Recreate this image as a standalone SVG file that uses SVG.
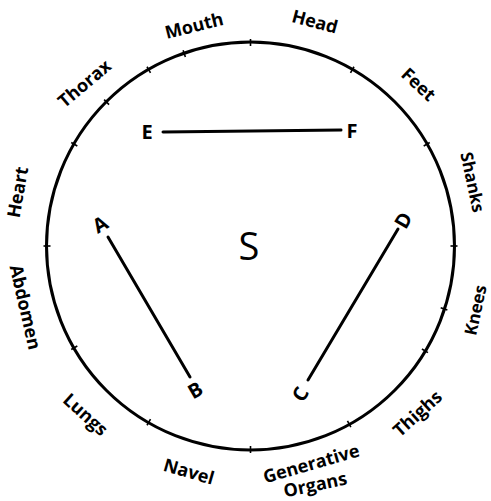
<svg xmlns="http://www.w3.org/2000/svg" width="491" height="501" viewBox="0 0 491 501">
<style>
.lbl{font-family:"Open Sans","DejaVu Sans",sans-serif;font-weight:700;font-size:18px;fill:#000;text-anchor:middle;dominant-baseline:central}
.sm{font-size:17px}
.pt{font-family:"Open Sans","DejaVu Sans",sans-serif;font-weight:700;font-size:20px;fill:#000;text-anchor:middle;dominant-baseline:central}
.ln{stroke:#000;stroke-width:3;stroke-linecap:round;fill:none}
.tk{stroke:#000;stroke-width:1.6}
</style>
<rect width="491" height="501" fill="#fff"/>
<g id="circle">
<circle cx="250.5" cy="246" r="204" fill="none" stroke="#000" stroke-width="3"/>
<g transform="translate(250.5 246)">
<line class="tk" x1="0" y1="-200" x2="0" y2="-207" transform="rotate(0)"/>
<line class="tk" x1="0" y1="-200" x2="0" y2="-207" transform="rotate(30)"/>
<line class="tk" x1="0" y1="-200" x2="0" y2="-207" transform="rotate(60)"/>
<line class="tk" x1="0" y1="-200" x2="0" y2="-207" transform="rotate(90)"/>
<line class="tk" x1="0" y1="-200" x2="0" y2="-207" transform="rotate(108)"/>
<line class="tk" x1="0" y1="-200" x2="0" y2="-207" transform="rotate(121)"/>
<line class="tk" x1="0" y1="-200" x2="0" y2="-207" transform="rotate(151)"/>
<line class="tk" x1="0" y1="-200" x2="0" y2="-207" transform="rotate(180)"/>
<line class="tk" x1="0" y1="-200" x2="0" y2="-207" transform="rotate(210)"/>
<line class="tk" x1="0" y1="-200" x2="0" y2="-207" transform="rotate(240)"/>
<line class="tk" x1="0" y1="-200" x2="0" y2="-207" transform="rotate(270)"/>
<line class="tk" x1="0" y1="-200" x2="0" y2="-207" transform="rotate(300)"/>
<line class="tk" x1="0" y1="-200" x2="0" y2="-207" transform="rotate(315)"/>
<line class="tk" x1="0" y1="-200" x2="0" y2="-207" transform="rotate(330)"/>
<line class="tk" x1="0" y1="-200" x2="0" y2="-207" transform="rotate(341)"/>
</g>
</g>
<g id="labels">
<text class="lbl" transform="translate(194 25) rotate(-14)">Mouth</text>
<text class="lbl" transform="translate(315 21) rotate(15)">Head</text>
<text class="lbl" transform="translate(419 84) rotate(43)">Feet</text>
<text class="lbl sm" transform="translate(473 182) rotate(78)">Shanks</text>
<text class="lbl sm" transform="translate(475 310) rotate(-78)">Knees</text>
<text class="lbl" transform="translate(417 413) rotate(-42)">Thighs</text>
<text class="lbl" transform="translate(311 463) rotate(-16)">Generative</text>
<text class="lbl" transform="translate(315 484) rotate(-12)">Organs</text>
<text class="lbl" transform="translate(189 471) rotate(16)">Navel</text>
<text class="lbl" transform="translate(86 414) rotate(42)">Lungs</text>
<text class="lbl" transform="translate(26 307) rotate(77)">Abdomen</text>
<text class="lbl" transform="translate(17 192) rotate(-80)">Heart</text>
<text class="lbl" transform="translate(84 83) rotate(-40)">Thorax</text>
</g>
<g id="connectors">
<line id="EF" class="ln" x1="163" y1="132" x2="341" y2="130"/>
<line id="AB" class="ln" x1="108" y1="237" x2="190" y2="377"/>
<line id="CD" class="ln" x1="308" y1="380" x2="398" y2="229"/>
</g>
<g id="E"><text class="pt" x="147" y="131">E</text></g>
<g id="F"><text class="pt" x="352" y="130">F</text></g>
<g id="A"><text class="pt" transform="translate(100 224) rotate(-30)">A</text></g>
<g id="B"><text class="pt" transform="translate(195 390) rotate(-30)">B</text></g>
<g id="C"><text class="pt" transform="translate(300 394) rotate(-60)">C</text></g>
<g id="D"><text class="pt" transform="translate(403 220) rotate(-60)">D</text></g>
<g id="S"><text x="249" y="245" style="font-family:'Open Sans','DejaVu Sans',sans-serif;font-size:38px;text-anchor:middle;dominant-baseline:central">S</text></g>
</svg>
